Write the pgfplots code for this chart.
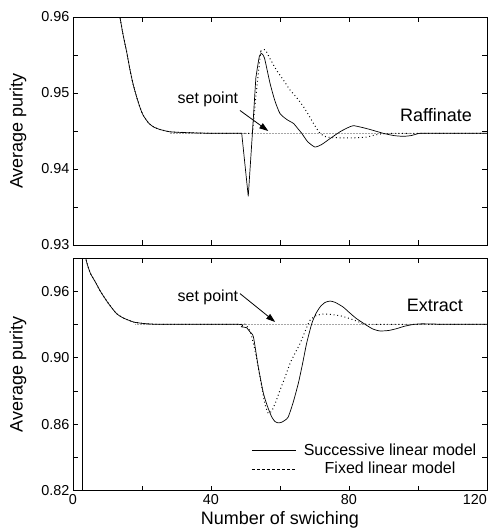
\documentclass[border=0pt]{standalone}
\usepackage{fontspec}
\setmainfont{Liberation Sans}
\usepackage{pgfplots}
\pgfplotsset{compat=1.18}
\usetikzlibrary{arrows.meta}

\pgfplotsset{
  purity/.style={
    scale only axis, width=414pt, xmin=0, xmax=120,
    xtick={0,20,40,60,80,100,120},
    tick align=inside, major tick length=5pt,
    tick style={black, line width=0.6pt},
    axis line style={line width=0.8pt},
    /pgf/number format/assume math mode=true,
    tick label style={font=\fontsize{14.4}{16}\selectfont},
    label style={font=\fontsize{18}{21}\selectfont},
    ylabel={Average purity},
    ylabel style={at={(axis description cs:-0.133,0.5)}, anchor=center},
  },
  succ/.style={black, line width=0.7pt, smooth, tension=0.35},
  fixd/.style={black, line width=1pt, dash pattern=on 0.9pt off 2.8pt, smooth, tension=0.35},
  setpt/.style={gray!70, line width=1.1pt, dash pattern=on 0.8pt off 0.7pt},
}
\tikzset{
  lbl/.style={font=\fontsize{16}{19}\selectfont},
  big/.style={font=\fontsize{18}{21}\selectfont},
  arr/.style={line width=0.8pt, -{Triangle[length=9pt,width=6pt]}},
}

\begin{document}
\begin{tikzpicture}
\path[use as bounding box] (-73pt,17pt) rectangle (421pt,-511pt);

% Raffinate
\begin{axis}[purity, name=top, at={(0,0)}, anchor=north west,
  height=228pt, ymin=0.93, ymax=0.96,
  ytick={0.93,0.935,0.94,0.945,0.95,0.955,0.96},
  yticklabels={0.93,,0.94,,0.95,,0.96},
  xticklabels={}]
\addplot[setpt] coordinates {(28,0.9447) (120,0.9447)};
% fixed linear model
\addplot[fixd] coordinates {
 (11,0.968) (12,0.9645) (13,0.9615) (13.6,0.9600) (14.5,0.9577) (15.6,0.9553)
 (16.5,0.9531) (17.4,0.9512) (18.5,0.9494) (19.5,0.9480) (20.3,0.9471) (22,0.9460)
 (23.5,0.9455) (25.2,0.9452) (28,0.9449) (32,0.9448) (40,0.9447) (52,0.9447)};
\addplot[fixd, smooth=false, sharp plot] coordinates {
 (52,0.9447) (53,0.9495) (54.4,0.9555)};
\addplot[fixd] coordinates {
 (54.4,0.9555) (55.7,0.9557) (57,0.9546) (59,0.9530) (61,0.9517)
 (62.9,0.9504) (65,0.9493) (66.8,0.9482) (68.3,0.9471) (69.7,0.9460) (71.6,0.9447)
 (73.5,0.9442) (77.4,0.9441) (81,0.9441) (85,0.9442) (89,0.9446) (95,0.9447) (120,0.9447)};
% successive linear model
\addplot[succ] coordinates {
 (11,0.968) (12,0.9645) (13,0.9615) (13.6,0.9600) (14.5,0.9577) (15.6,0.9553)
 (16.5,0.9531) (17.4,0.9512) (18.5,0.9494) (19.5,0.9480) (20.3,0.9471) (22,0.9460)
 (23.5,0.9455) (25.2,0.9452) (28,0.9449) (32,0.9448) (40,0.9447) (48.9,0.9447)};
\addplot[succ, sharp plot] coordinates {
 (48.9,0.9447) (50.8,0.9364) (52,0.9447) (53,0.9520)};
\addplot[succ] coordinates {
 (53,0.9520) (54,0.9548) (54.7,0.9552) (55.5,0.9546)
 (57.1,0.9513) (58.5,0.9490) (60,0.9473) (62,0.9465) (63.9,0.9460) (65.2,0.9453)
 (66.3,0.9447) (68,0.9436) (70.1,0.9429) (72,0.9432) (74.5,0.9440) (77.4,0.9449)
 (79.5,0.9454) (81.2,0.9457) (83.5,0.9455) (86.1,0.9452) (89.9,0.9447) (93,0.9444)
 (95.7,0.9443) (98,0.9444) (100.6,0.9447) (105,0.9447) (120,0.9447)};
\node[lbl] at (axis cs:39.1,0.9491) {set point};
\draw[arr] (axis cs:48.4,0.9477) -- (axis cs:56.6,0.9450);
\node[big] at (axis cs:105.2,0.9471) {Raffinate};
\end{axis}

% Extract
\begin{axis}[purity, name=bot, at={(0,-241pt)}, anchor=north west,
  height=232.7pt, ymin=0.82, ymax=0.96,
  ytick={0.82,0.84,0.86,0.88,0.90,0.92,0.94},
  yticklabels={0.82,,0.86,,0.90,,0.96},
  xticklabels={\raisebox{3pt}{0},,40,,80,,\raisebox{6pt}{\makebox[0pt][r]{120}}},
  xlabel={Number of swiching},
  xlabel style={at={(axis description cs:0.5,-0.124)}, anchor=center},
  legend style={at={(rel axis cs:1,0)}, anchor=south east, xshift=-6pt, yshift=10pt,
    draw=none, fill=none, font=\fontsize{16}{19}\selectfont, row sep=0pt,
    column sep=6pt, nodes={inner sep=1.5pt, text height=12pt, text depth=3.5pt}},
  legend cell align=center,
  legend image code/.code={\draw[#1] (0pt,0pt) -- (44pt,0pt);}]
\addlegendimage{black, line width=0.7pt}
\addlegendentry{Successive linear model}
\addlegendimage{black, line width=1pt, dash pattern=on 3pt off 2pt}
\addlegendentry{Fixed linear model}
\addplot[setpt, forget plot] coordinates {(18,0.9201) (120,0.9201)};
\addplot[black, line width=0.7pt, forget plot] coordinates {(2.7,0.80) (2.7,0.99)};
\addplot[fixd, forget plot] coordinates {
 (2.7,0.990) (3.2,0.972) (3.8,0.959) (5,0.951) (6.5,0.9455) (7.8,0.9405) (9,0.9365)
 (10.5,0.9320) (12.6,0.9266) (14.5,0.9240) (17.5,0.9215) (20,0.9207) (22.3,0.9203)
 (26,0.9201) (48,0.9201) (50,0.9200) (51.5,0.9150) (53,0.9020) (54.5,0.8850)
 (55.6,0.8725) (56.6,0.8665) (57.6,0.8680) (58.7,0.8730) (60,0.8805) (61.5,0.8885)
 (62.9,0.8965) (64.3,0.9025) (65.8,0.9085) (67.3,0.9160) (68.7,0.9225) (70.6,0.9255)
 (72.5,0.9262) (74.5,0.9261) (77.5,0.9252) (80.3,0.9235) (83.2,0.9213) (86,0.9201)
 (120,0.9201)};
\addplot[succ, forget plot] coordinates {
 (2.7,0.990) (3.2,0.972) (3.8,0.959) (5,0.951) (6.5,0.9455) (7.8,0.9405) (9,0.9365)
 (10.5,0.9320) (12.6,0.9266) (14.5,0.9240) (17.5,0.9215) (20,0.9207) (22.3,0.9203)
 (26,0.9201) (48,0.9201) (48.8,0.9186) (50.3,0.9181) (51.3,0.9155) (52.3,0.9125)
 (53.7,0.8945) (55.2,0.8785) (56.5,0.8700) (57.6,0.8644) (58.5,0.8617) (59.5,0.8608)
 (60.5,0.8612) (61.5,0.8625) (62.4,0.8644) (63.8,0.8730) (65.3,0.8845) (66.5,0.8960)
 (67.7,0.9085) (69.2,0.9205) (70.4,0.9265) (71.6,0.9305) (73,0.9332) (74.5,0.9341)
 (76,0.9333) (78.3,0.9305) (80.2,0.9270) (82.2,0.9235) (85.1,0.9195) (87,0.9172)
 (89,0.9161) (91.5,0.9164) (93.8,0.9175) (96,0.9189) (98.6,0.9200) (101,0.9204)
 (104,0.9203) (108,0.9201) (120,0.9201)};
\node[lbl] at (axis cs:39.1,0.9363) {set point};
\draw[arr] (axis cs:48.4,0.9386) -- (axis cs:58.6,0.9215);
\node[big] at (axis cs:104.9,0.9315) {Extract};
\end{axis}
\end{tikzpicture}
\end{document}
